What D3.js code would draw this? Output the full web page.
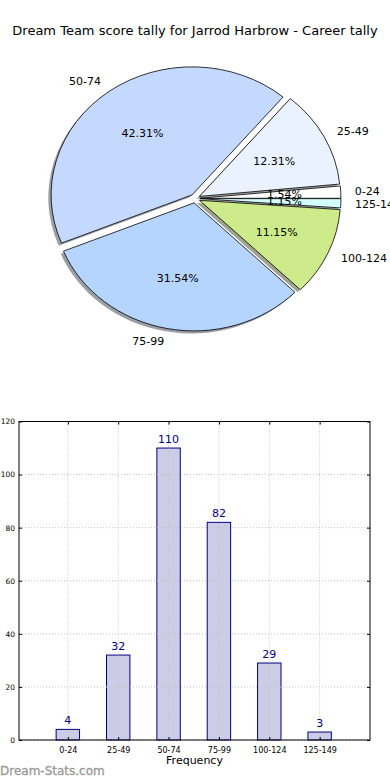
<!DOCTYPE html>
<html><head><meta charset="utf-8">
<script src="https://cdn.jsdelivr.net/npm/d3@7"></script>
<style>body{margin:0;background:#fff}svg{display:block;font-family:"DejaVu Sans",sans-serif}</style>
</head><body>
<svg id="c" width="390" height="780"></svg>
<script>
const categories = ["0-24","25-49","50-74","75-99","100-124","125-149"];
const counts = [4,32,110,82,29,3];
const sliceColors = ["#ffffff","#eaf2ff","#c5d9ff","#b5d5ff","#cdeb8b","#d5ffff"];
const yTicks = [0,20,40,60,80,100,120];
const title = "Dream Team score tally for Jarrod Harbrow - Career tally";

const svg = d3.select("#c");
svg.append("text").attr("x",195).attr("y",35).attr("text-anchor","middle")
  .attr("font-size",13).attr("fill","#000").text(title);

// ---- Pie ----
const cx = 195, cy = 198.5, rx = 141, ry = 128, explode = 0.035;
const total = d3.sum(counts);
const pie = d3.pie().sort(null).value(d=>d).startAngle(Math.PI/2).endAngle(Math.PI/2 - 2*Math.PI);
const arcs = pie(counts);
const arc = d3.arc().innerRadius(0).outerRadius(100);
const pg = svg.append("g");
function dir(a){ return [Math.sin(a), -Math.cos(a)]; }
// shadow
const shadow = pg.append("g").attr("transform",`translate(${cx-2.8},${cy+2.6}) scale(${rx/100},${ry/100})`);
arcs.forEach((d,i)=>{
  const m=(d.startAngle+d.endAngle)/2, [ux,uy]=dir(m);
  const c = d3.color(sliceColors[i]); const sc = d3.rgb(c.r*0.3,c.g*0.3,c.b*0.3);
  shadow.append("path").attr("d",arc(d)).attr("transform",`translate(${ux*explode*100},${uy*explode*100})`)
    .attr("fill",sc).attr("fill-opacity",0.5);
});
const slices = pg.append("g").attr("transform",`translate(${cx},${cy}) scale(${rx/100},${ry/100})`);
arcs.forEach((d,i)=>{
  const m=(d.startAngle+d.endAngle)/2, [ux,uy]=dir(m);
  slices.append("path").attr("d",arc(d)).attr("transform",`translate(${ux*explode*100},${uy*explode*100})`)
    .attr("fill",sliceColors[i]).attr("stroke","#000").attr("stroke-width",0.8)
    .attr("vector-effect","non-scaling-stroke").attr("stroke-linejoin","round");
});
arcs.forEach((d,i)=>{
  const m=(d.startAngle+d.endAngle)/2, [ux,uy]=dir(m);
  const lx = cx + (explode+1.1)*rx*ux, ly = cy + (explode+1.1)*ry*uy;
  pg.append("text").attr("x",lx).attr("y",ly).attr("dy","0.35em")
    .attr("text-anchor", ux<0?"end":"start").attr("font-size",11).attr("fill","#000").text(categories[i]);
  const px = cx + (explode+0.6)*rx*ux, py = cy + (explode+0.6)*ry*uy;
  pg.append("text").attr("x",px).attr("y",py).attr("dy","0.35em")
    .attr("text-anchor","middle").attr("font-size",11).attr("fill","#000")
    .text(d3.format(".2f")(100*counts[i]/total)+"%");
});

// ---- Bar chart ----
const L=19, R=370, T=421.5, B=740;
const x = d3.scaleLinear().domain([-0.97,6.0]).range([L,R]);
const y = d3.scaleLinear().domain([0,120]).range([B,T]);
const bg = svg.append("g");
const bw = x(0.465)-x(0);
bg.selectAll("rect.bar").data(counts).join("rect")
  .attr("x",(d,i)=>x(i)-bw/2).attr("y",d=>y(d)).attr("width",bw).attr("height",d=>B-y(d))
  .attr("fill","#ccccE6").attr("stroke","#000080").attr("stroke-width",1);
// grid
bg.selectAll("line.hg").data(yTicks).join("line")
  .attr("x1",L).attr("x2",R).attr("y1",d=>y(d)).attr("y2",d=>y(d))
  .attr("stroke","#c0c0c0").attr("stroke-width",1).attr("stroke-dasharray","1,2");
bg.selectAll("line.vg").data(categories).join("line")
  .attr("x1",(d,i)=>x(i)).attr("x2",(d,i)=>x(i)).attr("y1",T).attr("y2",B)
  .attr("stroke","#c0c0c0").attr("stroke-width",1).attr("stroke-dasharray","1,2");
// frame
bg.append("rect").attr("x",L).attr("y",T).attr("width",R-L).attr("height",B-T)
  .attr("fill","none").attr("stroke","#000").attr("stroke-width",1);
// ticks
const yAxisL = d3.axisLeft(y).tickValues(yTicks).tickSizeInner(-3).tickSizeOuter(0).tickPadding(4);
const gy = bg.append("g").attr("transform",`translate(${L},0)`).call(yAxisL);
gy.select(".domain").remove();
gy.selectAll("text").attr("font-size",7.5).attr("font-family","DejaVu Sans").attr("fill","#000");
const gyR = bg.append("g").attr("transform",`translate(${R},0)`).call(d3.axisRight(y).tickValues(yTicks).tickSize(-3).tickFormat(""));
gyR.select(".domain").remove();
const xAxis = d3.axisBottom(x).tickValues(d3.range(categories.length)).tickFormat(i=>categories[i]).tickSizeInner(-3).tickSizeOuter(0).tickPadding(7);
const gx = bg.append("g").attr("transform",`translate(0,${B})`).call(xAxis);
gx.select(".domain").remove();
gx.selectAll("text").attr("font-size",8).attr("font-family","DejaVu Sans").attr("fill","#000");
const gxT = bg.append("g").attr("transform",`translate(0,${T})`).call(d3.axisTop(x).tickValues(d3.range(categories.length)).tickSize(-3).tickFormat(""));
gxT.select(".domain").remove();
// value labels
bg.selectAll("text.val").data(counts).join("text")
  .attr("x",(d,i)=>x(i)).attr("y",d=>y(d)-5).attr("text-anchor","middle")
  .attr("font-size",11).attr("fill","#000080").text(d=>d);
bg.append("text").attr("x",(L+R)/2).attr("y",764).attr("text-anchor","middle")
  .attr("font-size",11).attr("fill","#000").text("Frequency");
svg.append("text").attr("x",0).attr("y",775).attr("font-size",12)
  .attr("fill","#999").attr("stroke","#999").attr("stroke-width",0.3).text("Dream-Stats.com");
</script>
</body></html>
